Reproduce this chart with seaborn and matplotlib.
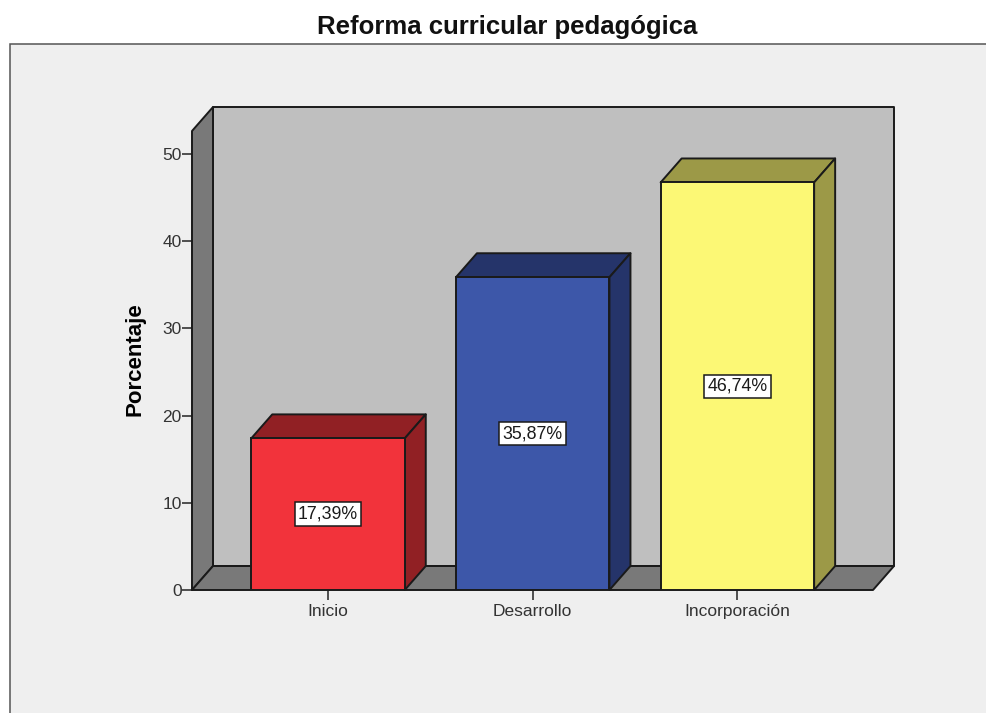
import pandas as pd
import seaborn as sns
import matplotlib.pyplot as plt
from matplotlib.patches import Polygon, Rectangle

categorias = ['Inicio', 'Desarrollo', 'Incorporación']
porcentajes = [17.39, 35.87, 46.74]
etiquetas = ['17,39%', '35,87%', '46,74%']
ticks_y = [0, 10, 20, 30, 40, 50]

colores = ['#F2333B', '#3D57A9', '#FCF875']
oscuros = ['#912024', '#25346A', '#9C9947']

sns.set_style('white')
plt.rcParams['font.family'] = ['Liberation Sans', 'DejaVu Sans']

df = pd.DataFrame({'cat': categorias, 'pct': porcentajes})

fig = plt.figure(figsize=(9.87, 7.13), dpi=100, facecolor='white')

# panel gris claro de fondo, abierto por la derecha y por abajo
fig.add_artist(Rectangle((10 / 987, -0.01), 1, (713 - 44) / 713 + 0.01, transform=fig.transFigure,
                         facecolor='#EFEFEF', edgecolor='#555555', lw=1.1, zorder=-1))

ax = fig.add_axes([192 / 987, 123 / 713, 681 / 987, 459 / 713])
ax.patch.set_alpha(0)

sns.barplot(data=df, x='cat', y='pct', hue='cat', palette=colores, width=0.75,
            saturation=1, dodge=False, legend=False, edgecolor='#1A1A1A', linewidth=1.4,
            zorder=3, ax=ax)

x0, x1 = -0.6644, 2.6625
y1 = 52.64
ax.set_xlim(x0, x1)
ax.set_ylim(0, y1)

# profundidad del efecto 3D en unidades de datos (21 px y 24 px)
dx = 0.1026
dy = 2.75
borde = dict(edgecolor='#1A1A1A', lw=1.4, clip_on=False, joinstyle='round')

# pared del fondo, pared lateral y suelo
ax.add_patch(Polygon([(x0 + dx, dy), (x1 + dx, dy), (x1 + dx, y1 + dy), (x0 + dx, y1 + dy)],
                     facecolor='#BFBFBF', zorder=1, **borde))
ax.add_patch(Polygon([(x0, 0), (x0 + dx, dy), (x0 + dx, y1 + dy), (x0, y1)],
                     facecolor='#797979', zorder=1.2, **borde))
ax.add_patch(Polygon([(x0, 0), (x1, 0), (x1 + dx, dy), (x0 + dx, dy)],
                     facecolor='#797979', zorder=1.2, **borde))

# caras superior y lateral de cada barra
for bar_cont, oscuro, etiqueta in zip(ax.containers, oscuros, etiquetas):
    for bar in bar_cont:
        a = bar.get_x()
        b = a + bar.get_width()
        h = bar.get_height()
        ax.add_patch(Polygon([(a, h), (b, h), (b + dx, h + dy), (a + dx, h + dy)],
                             facecolor=oscuro, zorder=2, **borde))
        ax.add_patch(Polygon([(b, 0), (b + dx, dy), (b + dx, h + dy), (b, h)],
                             facecolor=oscuro, zorder=2, **borde))
        ax.text(a + bar.get_width() / 2, h / 2, etiqueta, ha='center', va='center',
                fontsize=12.8, color='#1A1A1A', zorder=5,
                bbox=dict(facecolor='white', edgecolor='#1A1A1A', lw=1.1, boxstyle='square,pad=0.18'))

sns.despine(ax=ax, left=True, bottom=True, top=True, right=True)
ax.set_yticks(ticks_y)
ax.tick_params(axis='both', length=7.5, width=1.2, color='#333333', labelsize=12.5,
               labelcolor='#333333', left=True, bottom=True)
ax.tick_params(axis='y', pad=0)
ax.tick_params(axis='x', pad=2.5)
ax.set_xlabel('')
ax.set_ylabel('Porcentaje', fontsize=16, fontweight='bold', color='black')
ax.yaxis.set_label_coords(-0.068, 0.503)

fig.text(507 / 987, 1 - 27 / 713, 'Reforma curricular pedagógica', ha='center', va='center',
         fontsize=18.5, fontweight='bold', color='#111111')

fig.savefig('out.png', dpi=100)
